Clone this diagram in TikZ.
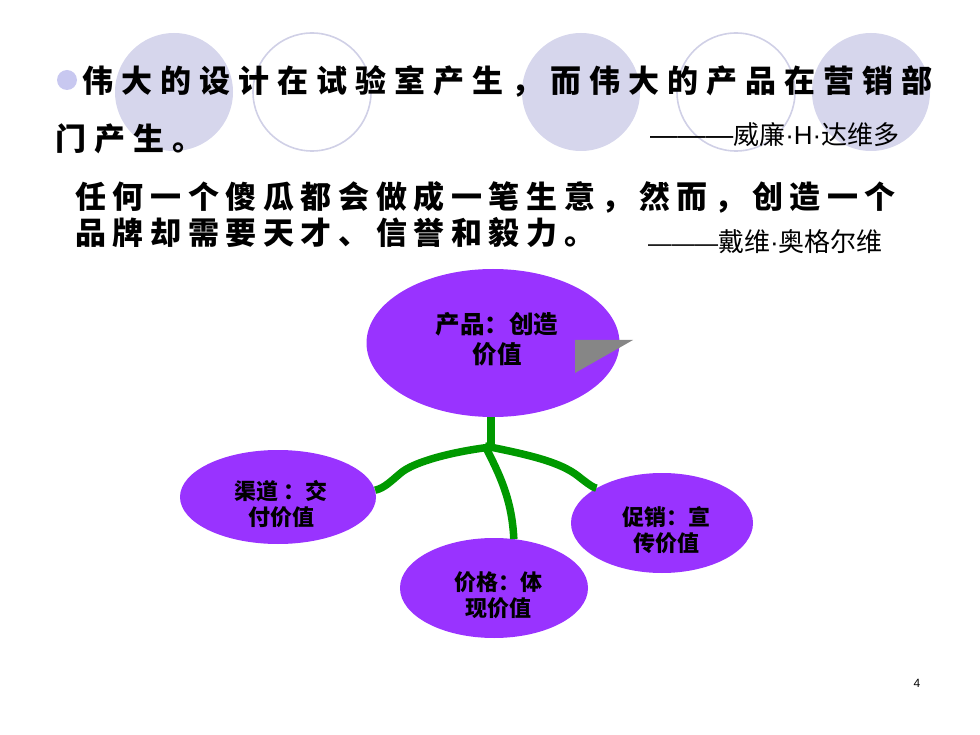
\documentclass[tikz,border=0pt]{standalone}
\usepackage{fontspec}
\setmainfont{Noto Sans CJK SC}
\newfontfamily\cjkA{Noto Sans CJK SC}[LetterSpace=25.8]
\newfontfamily\cjkB{Noto Sans CJK SC}[LetterSpace=21.3]
\newfontfamily\cjkR{Noto Sans CJK SC}
\newfontfamily\arialf{Liberation Sans}
\usetikzlibrary{shapes.geometric}
\definecolor{lav}{RGB}{214,214,236}
\definecolor{lavline}{RGB}{208,208,230}
\definecolor{bullet}{RGB}{200,200,240}
\definecolor{vio}{RGB}{153,51,255}
\definecolor{grn}{RGB}{0,153,0}
\newcommand{\mdot}{{\arialf ·}}
\tikzset{
  deco/.style={fill=lav, draw=none},
  decoring/.style={draw=lavline, line width=1.6pt, fill=none},
  big/.style={inner sep=0pt, anchor=base west, font=\cjkA\bfseries\fontsize{31}{36}\selectfont},
  bigb/.style={inner sep=0pt, anchor=base west, font=\cjkB\bfseries\fontsize{31}{36}\selectfont},
  attr/.style={inner sep=0pt, anchor=base west, font=\cjkR\fontsize{26}{30}\selectfont},
  bub/.style={ellipse, fill=vio, draw=none, inner sep=0pt},
  lbl/.style={inner sep=0pt, align=center, text=black},
  branch/.style={draw=grn, line width=7.5pt, line cap=butt},
}
\begin{document}
\begin{tikzpicture}[x=1pt,y=-1pt]
\useasboundingbox (0,0) rectangle (980,735);
% decorative circles
\fill[deco] (174,92) circle (59);
\draw[decoring] (312,92) circle (59);
\fill[deco] (581,92) circle (59);
\draw[decoring] (736,92) circle (59);
\fill[deco] (871,92) circle (59);
\fill[bullet] (67,80) circle (10);
% texts
\node[big] (t1) at (82,92.8) {伟大的设计在试验室产生，而伟大的产品在营销部};
\node[big] (t2) at (55,150.8) {门产生。};
\node[attr] (a1) at (650,145) {{\arialf\fontsize{27.7}{30}\selectfont ———}威廉\mdot{\arialf H}\mdot 达维多};
\node[bigb] (t3) at (75,208.8) {任何一个傻瓜都会做成一笔生意，然而，创造一个};
\node[bigb] (t4) at (75,244.8) {品牌却需要天才、信誉和毅力。};
\node[attr] (a2) at (648,252) {{\arialf\fontsize{23.3}{30}\selectfont ———}戴维\mdot 奥格尔维};
% bubbles
\node[bub, minimum width=253pt, minimum height=148pt] (top) at (493,343) {};
\node[bub, minimum width=196pt, minimum height=94pt] (left) at (278,497) {};
\node[bub, minimum width=188pt, minimum height=100pt] (bottom) at (494,588) {};
\node[bub, minimum width=182pt, minimum height=100pt] (right) at (662,523) {};
\fill[gray!95] (575,340) -- (633,340) -- (575,373) -- cycle;
% labels
\node[lbl, font=\cjkR\bfseries\fontsize{24.5}{30}\selectfont] (ltop) at (497,339) {产品：创造\\价值};
\node[lbl, font=\cjkR\bfseries\fontsize{22}{26}\selectfont] (lleft) at (281,504) {渠道 ：交\\付价值};
\node[lbl, font=\cjkR\bfseries\fontsize{22}{26}\selectfont] (lbottom) at (498,595) {价格：体\\现价值};
\node[lbl, font=\cjkR\bfseries\fontsize{22}{26}\selectfont] (lright) at (666,530) {促销：宣\\传价值};
% connectors
\coordinate (j) at (491,447);
\coordinate (jb) at (485,446);
\draw[branch] (top.south -| j) -- (j);
\draw[branch] (j) .. controls (450,452) and (415,462) .. (402,472)
   .. controls (392,480) and (385,488) .. (left.4);
\draw[branch] (jb) .. controls (530,455) and (560,462) .. (578,476)
   .. controls (588,484) and (594,488) .. (right.152);
\draw[branch] (jb) .. controls (500,475) and (512,500) .. (bottom.68);
% page number
\node[inner sep=0pt, font=\arialf\fontsize{12}{14}\selectfont] (pg) at (917,683) {4};
\end{tikzpicture}
\end{document}
